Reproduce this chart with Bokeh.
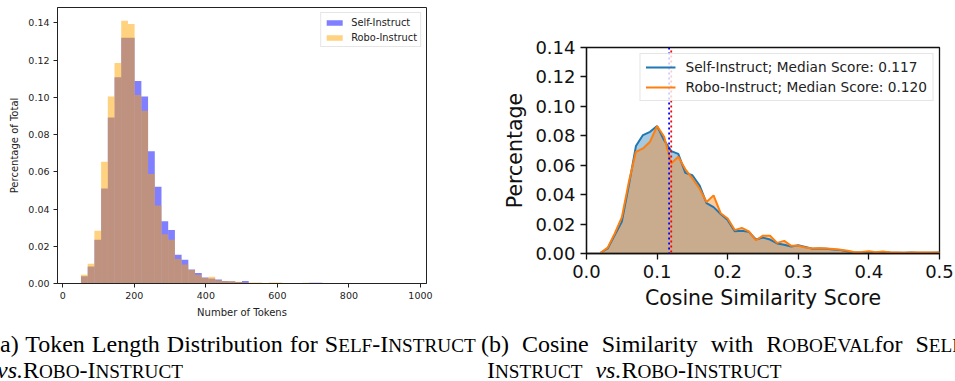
from bokeh.plotting import figure
from bokeh.models import (Range1d, FixedTicker, NumeralTickFormatter, Legend,
                          LegendItem, Span, Div, Spacer, ColumnDataSource)
from bokeh.layouts import row, column
from bokeh.embed import file_html
from bokeh.resources import INLINE

# ---------------- data: (a) token length histogram ----------------
bin_start = 32.0
bin_width = 18.76
self_hist = [0.0003, 0.0039, 0.0091, 0.0235, 0.0510, 0.0892, 0.1108, 0.1320,
             0.1320, 0.1088, 0.1004, 0.0710, 0.0520, 0.0335, 0.0287, 0.0154,
             0.0127, 0.0075, 0.0056, 0.0032, 0.0027, 0.0022, 0.0014, 0.0012,
             0.0008, 0.0014, 0.0003, 0.0003, 0.0002, 0.0002, 0.0002, 0.0001,
             0.0001, 0.0001, 0.0000, 0.0004, 0.0004, 0.0001, 0.0000, 0.0000,
             0.0000, 0.0000, 0.0000, 0.0000, 0.0000, 0.0000, 0.0000, 0.0000,
             0.0000, 0.0001]
robo_hist = [0.0003, 0.0047, 0.0106, 0.0283, 0.0654, 0.1004, 0.1185, 0.1412,
             0.1394, 0.1013, 0.0928, 0.0588, 0.0419, 0.0265, 0.0235, 0.0131,
             0.0102, 0.0072, 0.0047, 0.0029, 0.0036, 0.0018, 0.0014, 0.0012,
             0.0009, 0.0005, 0.0006, 0.0006, 0.0002, 0.0005, 0.0005, 0.0001,
             0.0001, 0.0001, 0.0004, 0.0001, 0.0000, 0.0000, 0.0000, 0.0000,
             0.0000, 0.0000, 0.0000, 0.0000, 0.0000, 0.0000, 0.0000, 0.0000,
             0.0000, 0.0000]
hist_xticks = [0, 200, 400, 600, 800, 1000]
hist_yticks = [0.00, 0.02, 0.04, 0.06, 0.08, 0.10, 0.12, 0.14]

# ---------------- data: (b) cosine similarity distribution ----------------
score_x = [0.02, 0.03, 0.04, 0.05, 0.06, 0.07, 0.08, 0.09, 0.10, 0.11,
           0.12, 0.13, 0.14, 0.15, 0.16, 0.17, 0.18, 0.19, 0.20, 0.21,
           0.22, 0.23, 0.24, 0.25, 0.26, 0.27, 0.28, 0.29, 0.30, 0.31,
           0.32, 0.33, 0.34, 0.35, 0.36, 0.37, 0.38, 0.39, 0.40, 0.41,
           0.42, 0.43, 0.44, 0.45, 0.46, 0.47, 0.48, 0.49, 0.50]
self_pct = [0.0005, 0.0034, 0.0125, 0.0215, 0.0465, 0.0730, 0.0805, 0.0827, 0.0866, 0.0770,
            0.0696, 0.0677, 0.0548, 0.0532, 0.0464, 0.0342, 0.0315, 0.0268, 0.0227, 0.0152,
            0.0155, 0.0147, 0.0095, 0.0108, 0.0095, 0.0068, 0.0059, 0.0048, 0.0056, 0.0045,
            0.0032, 0.0034, 0.0032, 0.0027, 0.0023, 0.0014, 0.0007, 0.0007, 0.0005, 0.0007,
            0.0011, 0.0007, 0.0005, 0.0005, 0.0007, 0.0005, 0.0005, 0.0005, 0.0007]
robo_pct = [0.0005, 0.0040, 0.0136, 0.0245, 0.0487, 0.0691, 0.0714, 0.0760, 0.0866, 0.0793,
            0.0612, 0.0657, 0.0572, 0.0510, 0.0442, 0.0350, 0.0395, 0.0274, 0.0238, 0.0159,
            0.0174, 0.0150, 0.0090, 0.0121, 0.0121, 0.0072, 0.0086, 0.0052, 0.0053, 0.0041,
            0.0034, 0.0036, 0.0034, 0.0030, 0.0025, 0.0018, 0.0009, 0.0011, 0.0016, 0.0009,
            0.0014, 0.0007, 0.0007, 0.0005, 0.0007, 0.0007, 0.0007, 0.0007, 0.0007]
self_median = 0.117
robo_median = 0.120
cos_xticks = [0.0, 0.1, 0.2, 0.3, 0.4, 0.5]
cos_yticks = [0.00, 0.02, 0.04, 0.06, 0.08, 0.10, 0.12, 0.14]

FONT = "DejaVu Sans"
TOP_BORDER = 7
BOTTOM_BORDER = 65

# ---------------- figure (a) ----------------
lefts = [bin_start + k * bin_width for k in range(len(self_hist))]
rights = [l + bin_width for l in lefts]
lo, hi = lefts[0], rights[-1]
pad = 0.05 * (hi - lo)
ytop = max(max(self_hist), max(robo_hist)) * 1.05

pa = figure(width=480, height=348, output_backend="svg", toolbar_location=None,
            x_range=Range1d(lo - pad, hi + pad), y_range=Range1d(0, ytop),
            min_border_left=57, min_border_right=54, min_border_top=TOP_BORDER,
            min_border_bottom=BOTTOM_BORDER)
src_a = ColumnDataSource(dict(left=lefts, right=rights, s=self_hist, r=robo_hist))
ra1 = pa.quad(left="left", right="right", bottom=0, top="s", source=src_a,
              fill_color="#0000ff", fill_alpha=0.5, line_color=None)
ra2 = pa.quad(left="left", right="right", bottom=0, top="r", source=src_a,
              fill_color="#ffa500", fill_alpha=0.5, line_color=None)
pa.xaxis.ticker = FixedTicker(ticks=hist_xticks)
pa.yaxis.ticker = FixedTicker(ticks=hist_yticks)
pa.yaxis.formatter = NumeralTickFormatter(format="0.00")
pa.xaxis.axis_label = "Number of Tokens"
pa.yaxis.axis_label = "Percentage of Total"
for ax in (pa.xaxis[0], pa.yaxis[0]):
    ax.major_label_text_font = FONT
    ax.major_label_text_font_size = "9.5px"
    ax.major_label_text_color = "#222222"
    ax.axis_label_text_font = FONT
    ax.axis_label_text_font_size = "10px"
    ax.axis_label_text_font_style = "normal"
    ax.axis_label_text_color = "#222222"
    ax.major_tick_out = 4
    ax.major_tick_in = 0
    ax.minor_tick_out = 0
    ax.minor_tick_in = 0
    ax.axis_line_color = "#222222"
    ax.major_tick_line_color = "#222222"
    ax.major_label_standoff = 4
    ax.axis_label_standoff = 5
pa.grid.visible = False
pa.outline_line_color = "#222222"
pa.outline_line_width = 1
leg_a = Legend(items=[LegendItem(label="Self-Instruct", renderers=[ra1]),
                      LegendItem(label="Robo-Instruct", renderers=[ra2])],
               location="top_right", margin=5, padding=3, spacing=3,
               glyph_width=20, glyph_height=7, label_height=12,
               label_standoff=7, label_text_font=FONT,
               label_text_font_size="9.8px", label_text_color="#222222",
               border_line_color="#cccccc", border_line_width=1,
               background_fill_alpha=0.8)
pa.add_layout(leg_a)

# ---------------- figure (b) ----------------
pb = figure(width=475, height=278, output_backend="svg", toolbar_location=None,
            x_range=Range1d(0, 0.5), y_range=Range1d(0, 0.14),
            min_border_left=106, min_border_right=16, min_border_top=TOP_BORDER,
            min_border_bottom=BOTTOM_BORDER)
src_b = ColumnDataSource(dict(x=score_x, s=self_pct, r=robo_pct))
pb.varea(x="x", y1=0, y2="s", source=src_b, fill_color="#1f77b4", fill_alpha=0.4)
pb.varea(x="x", y1=0, y2="r", source=src_b, fill_color="#ff7f0e", fill_alpha=0.4)
lb1 = pb.line(x="x", y="s", source=src_b, line_color="#1f77b4", line_width=2)
lb2 = pb.line(x="x", y="r", source=src_b, line_color="#ff7f0e", line_width=2)
pb.add_layout(Span(location=self_median, dimension="height", line_color="#0000ff",
                   line_dash="2 3", line_width=1.8))
pb.add_layout(Span(location=robo_median, dimension="height", line_color="#ff0000",
                   line_dash="2 3", line_dash_offset=2, line_width=1.8))
pb.xaxis.ticker = FixedTicker(ticks=cos_xticks)
pb.yaxis.ticker = FixedTicker(ticks=cos_yticks)
pb.xaxis.formatter = NumeralTickFormatter(format="0.0")
pb.yaxis.formatter = NumeralTickFormatter(format="0.00")
pb.xaxis.axis_label = "Cosine Similarity Score"
pb.yaxis.axis_label = "Percentage"
for ax in (pb.xaxis[0], pb.yaxis[0]):
    ax.major_label_text_font = FONT
    ax.major_label_text_font_size = "18px"
    ax.major_label_text_color = "#111111"
    ax.axis_label_text_font = FONT
    ax.axis_label_text_font_size = "20.5px"
    ax.axis_label_text_font_style = "normal"
    ax.axis_label_text_color = "#111111"
    ax.major_tick_out = 6
    ax.major_tick_in = 0
    ax.minor_tick_out = 0
    ax.minor_tick_in = 0
    ax.major_tick_line_width = 1.3
    ax.axis_line_width = 1.3
    ax.axis_line_color = "#111111"
    ax.major_tick_line_color = "#111111"
    ax.major_label_standoff = 5
    ax.axis_label_standoff = 5
pb.grid.visible = False
pb.outline_line_color = "#111111"
pb.outline_line_width = 1.3
leg_b = Legend(items=[LegendItem(label="Self-Instruct; Median Score: %.3f" % self_median, renderers=[lb1]),
                      LegendItem(label="Robo-Instruct; Median Score: %.3f" % robo_median, renderers=[lb2])],
               location="top_right", margin=6, padding=5, spacing=4,
               glyph_width=30, glyph_height=14, label_height=16,
               label_standoff=10, label_text_font=FONT,
               label_text_font_size="13.7px", label_text_color="#222222",
               border_line_color="#cccccc", border_line_width=1,
               background_fill_alpha=0.8)
pb.add_layout(leg_b)

# ---------------- captions ----------------
SC = '<span style="font-size:0.8em">%s</span>'
self_sc = "S" + SC % "ELF" + "-I" + SC % "NSTRUCT"
robo_sc = "R" + SC % "OBO" + "-I" + SC % "NSTRUCT"
roboeval_sc = "R" + SC % "OBO" + "E" + SC % "VAL"
base = ("font-family:'Liberation Serif';font-size:24px;line-height:25px;"
        "color:#000;white-space:nowrap;overflow:hidden;height:63px;"
        "padding-top:14px;box-sizing:border-box;")
cap_a = Div(width=480, height=63, margin=0, styles={"overflow": "hidden"},
            text=('<div style="%swidth:480px;">' % base +
                  '<div style="margin-left:-8px;word-spacing:1px">(a) Token Length Distribution for %s</div>' % self_sc +
                  '<div style="margin-left:-3px"><i>vs.</i>%s</div></div>' % robo_sc))
cap_b = Div(width=475, height=63, margin=0, styles={"overflow": "hidden"},
            text=('<div style="%swidth:475px;">' % base +
                  '<div style="margin-left:1px;word-spacing:7px">(b) Cosine Similarity with %sfor S%s-</div>'
                  % (roboeval_sc, SC % "ELF") +
                  '<div style="margin-left:7px;word-spacing:7px">I%s <i>vs.</i>%s</div></div>'
                  % (SC % "NSTRUCT", robo_sc)))

top_row = row(pa, column(Spacer(width=475, height=40), pb))
cap_row = row(cap_a, cap_b, styles={"margin-top": "-30px"})
layout = column(top_row, cap_row)
open("out.html", "w").write(file_html(layout, INLINE))
